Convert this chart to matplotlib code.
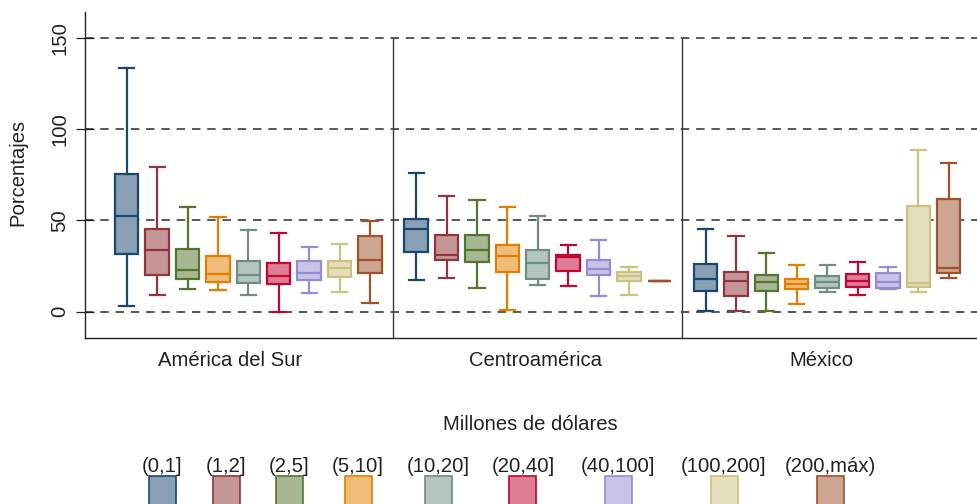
import matplotlib
matplotlib.use("Agg")
import matplotlib.pyplot as plt
from matplotlib import patches
from matplotlib import colors as mcolors
import numpy as np

plt.rcParams['font.family'] = ['Liberation Sans', 'DejaVu Sans']
plt.rcParams['font.size'] = 14.6

# Tramos de tamaño (millones de dólares)
tramos = ['(0,1]', '(1,2]', '(2,5]', '(5,10]', '(10,20]', '(20,40]',
          '(40,100]', '(100,200]', '(200,máx)']
regiones = ['América del Sur', 'Centroamérica', 'México']

# (bigote inf., Q1, mediana, Q3, bigote sup.) por tramo
america_sur = [
    (3.3, 31.4, 52.4, 75.2, 133.6),
    (8.9, 20.1, 33.9, 45.3, 79.2),
    (12.6, 17.9, 22.8, 34.5, 57.3),
    (12.0, 16.4, 20.4, 30.5, 51.6),
    (8.9, 15.7, 20.3, 27.7, 44.5),
    (0.0, 15.0, 19.7, 26.6, 43.1),
    (10.4, 17.3, 21.4, 27.7, 35.4),
    (10.9, 18.8, 24.1, 27.7, 37.2),
    (4.9, 21.0, 28.3, 41.6, 49.8),
]
centroamerica = [
    (17.2, 32.9, 45.1, 50.6, 75.7),
    (18.3, 28.1, 31.0, 42.0, 63.4),
    (13.2, 27.2, 33.6, 42.0, 61.0),
    (1.1, 21.6, 30.5, 36.7, 57.5),
    (14.4, 17.9, 26.5, 33.8, 52.4),
    (14.2, 22.5, 29.8, 31.0, 36.5),
    (8.8, 20.1, 23.4, 28.3, 39.4),
    (9.3, 16.7, 19.6, 21.7, 24.5),
    (17.0, 17.0, 17.0, 17.0, 17.0),
]
mexico = [
    (0.4, 11.3, 17.7, 25.9, 45.5),
    (0.4, 8.8, 17.0, 21.7, 41.3),
    (0.4, 11.3, 16.1, 20.1, 32.1),
    (4.0, 12.4, 15.2, 18.1, 25.6),
    (10.6, 13.0, 16.1, 19.6, 25.6),
    (9.0, 13.6, 17.0, 20.7, 27.0),
    (12.4, 12.8, 16.1, 21.0, 24.3),
    (10.6, 13.7, 15.5, 57.9, 88.6),
    (18.3, 21.4, 24.1, 61.7, 81.6),
]
datos = [america_sur, centroamerica, mexico]

# paleta s2color
bordes = ['#1a476f', '#90353b', '#55752f', '#e37e00', '#6e8e84',
          '#c10534', '#938dd2', '#cac27e', '#a0522d']


def aclarar(c, f=0.52):
    rgb = np.array(mcolors.to_rgb(c))
    return tuple(rgb * f + (1 - f))


rellenos = [aclarar(c) for c in bordes]

W, H = 977, 504
fig = plt.figure(figsize=(W / 100, H / 100), dpi=100)
ax = fig.add_axes([85 / W, (H - 338) / H, (W - 85) / W, (338 - 12) / H])

paso = 9.52  # separación entre regiones
for g, region in enumerate(datos):
    stats = [dict(whislo=lo, q1=q1, med=me, q3=q3, whishi=hi, fliers=[])
             for lo, q1, me, q3, hi in region]
    pos = g * paso + np.arange(len(region))
    bp = ax.bxp(stats, positions=pos, widths=0.77, capwidths=0.5,
                patch_artist=True, showfliers=False, manage_ticks=False)
    for i in range(len(region)):
        bp['boxes'][i].set(facecolor=rellenos[i], edgecolor=bordes[i],
                           linewidth=1.6, zorder=3)
        bp['medians'][i].set(color=bordes[i], linewidth=1.6, zorder=4)
        for ln in bp['whiskers'][2 * i:2 * i + 2] + bp['caps'][2 * i:2 * i + 2]:
            ln.set(color=bordes[i], linewidth=1.6, zorder=3)

ax.set_xlim(-1.372, 27.97)
ax.set_ylim(-14.4, 164.1)

# separadores entre regiones
for x in [8.76, 8.76 + paso]:
    ax.vlines(x, -14.4, 150, color='#3a3a3a', linewidth=1.0, zorder=2)

ax.set_yticks([0, 50, 100, 150])
ax.tick_params(axis='y', direction='inout', length=13, width=0.9, pad=5,
               labelrotation=90, colors='#222222')
for t in ax.get_yticklabels():
    t.set_va('center')
ax.grid(axis='y', color='#2a2a2a', linewidth=1.1, linestyle=(0, (5.5, 4.5)))
ax.set_axisbelow(True)

ax.set_xticks([3.40, 13.46, 22.84])
ax.set_xticklabels(regiones)
ax.tick_params(axis='x', length=0, pad=9, colors='#222222')

for s in ['top', 'right']:
    ax.spines[s].set_visible(False)
for s in ['left', 'bottom']:
    ax.spines[s].set_linewidth(1.0)
    ax.spines[s].set_color('#222222')

fig.text(18 / W, 1 - 172 / H, 'Porcentajes', rotation=90,
         ha='center', va='center', color='#222222')

# leyenda
fig.text(530 / W, 1 - 425 / H, 'Millones de dólares',
         ha='center', va='center', color='#222222')
centros = [162, 226, 289, 358, 438, 523, 618, 724, 830]
for cx, lab, fc, ec in zip(centros, tramos, rellenos, bordes):
    fig.text(cx / W, 1 - 466 / H, lab, ha='center', va='center',
             color='#222222')
    fig.add_artist(patches.Rectangle(((cx - 13.5) / W, 1 - 510 / H),
                                     27 / W, 34 / H, facecolor=fc,
                                     edgecolor=ec, linewidth=1.2,
                                     transform=fig.transFigure))

fig.savefig('out.png', dpi=100)
